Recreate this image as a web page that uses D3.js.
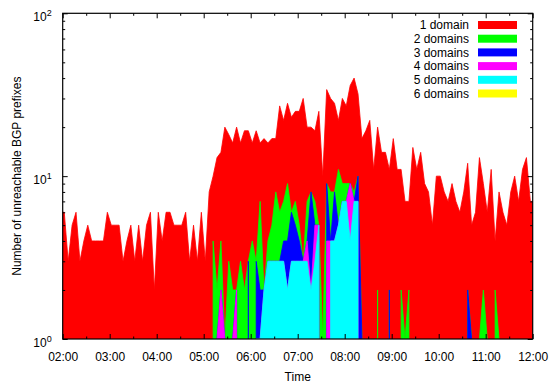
<!DOCTYPE html>
<html><head><meta charset="utf-8">
<script src="https://cdn.jsdelivr.net/npm/d3@7"></script>
<style>
body{margin:0;background:#fff}
svg text{font-family:"Liberation Sans",Arial,Helvetica,sans-serif;font-size:12px;fill:#000}
</style>
</head><body>
<svg id="chart" width="556" height="384"></svg>
<script>
// ---- data (5-minute samples, first sample 01:57, last 12:02) ----
const startTime = [1, 57];      // hh, mm
const stepMinutes = 5;

const oneDomain = [
 6,
 6,3,5,6,3,4,5,4,4,4,
 4,6,5,5,5,3,4,5,3,5,
 3,5,6,2,6,4,6,6,5,5,
 5,6,3,5,3,6,3,8,6,11,
 10,19,15,14,18,13,17,16,12,16,
 9,15,12,12,9,21,15,19,17,18,
 20,27,13,12,12,20,9,25,22,20,
 11,21,18,27,32,22,16,19,22,11,
 18,14,14,9,17,11,9,6,5,15,
 11,14,9,8,5,10,10,8,7,9,
 7,6,8,10,4,6,12,7,5,11,
 2,7,6,5,8,10,7,11,13,7,
 7
];
const twoDomains = [
 0,
 0,0,0,0,0,0,0,0,0,0,
 0,0,0,0,0,0,0,0,0,0,
 0,0,0,0,0,0,0,0,0,0,
 0,0,0,0,0,0,0,0,4,1,
 2,0,3,1,0,3,2,0,4,0,
 5,0,1,2,5,3,3,5,0,2,
 1,0,3,0,2,0,1,0,4,0,
 6,2,2,0,1,0,0,0,0,0,
 2,0,0,0,0,0,2,1,2,0,
 0,0,0,0,0,0,0,0,0,0,
 0,0,0,0,0,0,1,2,1,0,
 2,1,0,0,0,0,0,0,0,0,
 0
];
const threeDomains = [
 0,
 0,0,0,0,0,0,0,0,0,0,
 0,0,0,0,0,0,0,0,0,0,
 0,0,0,0,0,0,0,0,0,0,
 0,0,0,0,0,0,0,0,0,0,
 0,0,0,0,0,0,0,3,0,2,
 1,0,0,0,0,0,1,2,3,2,
 1,0,0,6,0,0,0,5,0,4,
 0,0,0,0,0,3,1,0,0,0,
 0,0,0,2,0,0,0,0,0,0,
 0,0,0,0,0,0,0,0,0,0,
 0,0,0,2,1,0,0,0,0,0,
 0,0,0,0,0,0,0,0,0,0,
 0
];
const fourDomains = [
 0,
 0,0,0,0,0,0,0,0,0,0,
 0,0,0,0,0,0,0,0,0,0,
 0,0,0,0,0,0,0,0,0,0,
 0,0,0,0,0,0,0,0,0,1,
 2,1,0,1,2,0,0,0,0,0,
 0,0,0,0,0,0,0,0,0,0,
 0,0,1,0,2,0,0,4,0,0,
 0,0,0,5,0,0,0,0,0,0,
 0,0,0,0,0,0,0,0,0,0,
 0,0,0,0,0,0,0,0,0,0,
 0,0,0,0,0,0,0,0,0,0,
 0,0,0,0,0,0,0,0,0,0,
 0
];
const fiveDomains = [
 0,
 0,0,0,0,0,0,0,0,0,0,
 0,0,0,0,0,0,0,0,0,0,
 0,0,0,0,0,0,0,0,0,0,
 0,0,0,0,0,0,0,0,0,0,
 0,0,0,0,0,0,0,0,0,1,
 1,2,3,3,3,3,3,2,3,3,
 3,3,3,2,3,5,0,0,4,4,
 5,7,7,4,7,7,0,0,0,0,
 0,0,0,0,0,0,0,0,0,0,
 0,0,0,0,0,0,0,0,0,0,
 0,0,0,0,0,0,0,0,0,0,
 0,0,0,0,0,0,0,0,0,0,
 0
];
const sixDomains = new Array(oneDomain.length).fill(0);

const seriesNames  = ["1 domain","2 domains","3 domains","4 domains","5 domains","6 domains"];
const seriesColors = ["#ff0000","#00ff00","#0000ff","#ff00ff","#00ffff","#ffff00"];
const xTickLabels  = ["02:00","03:00","04:00","05:00","06:00","07:00","08:00","09:00","10:00","11:00","12:00"];
const yTickValues  = [1,10,100];
const yTickExponents = ["0","1","2"];
const xTitle = "Time";
const yTitle = "Number of unreachable BGP prefixes";

// ---- layout ----
const L = 62.7, R = 532.7, T = 13.3, B = 339;
const svg = d3.select("#chart");

const day = (h, m) => new Date(Date.UTC(2000, 0, 1, h, m));
const x = d3.scaleUtc().domain([day(2, 0), day(12, 0)]).range([L, R]);
const y = d3.scaleLog().domain([1, 100]).range([B, T]);

const keys = ["six","five","four","three","two","one"];
const src = {one: oneDomain, two: twoDomains, three: threeDomains, four: fourDomains, five: fiveDomains, six: sixDomains};
const rows = oneDomain.map((_, i) => {
  const r = {t: new Date(day(startTime[0], startTime[1]).getTime() + i * stepMinutes * 60000)};
  keys.forEach(k => r[k] = src[k][i]);
  return r;
});
const stacked = d3.stack().keys(keys)(rows);
const byKey = {};
stacked.forEach(s => byKey[s.key] = s);

svg.append("defs").append("clipPath").attr("id", "plotclip")
  .append("rect").attr("x", L).attr("y", T).attr("width", R - L).attr("height", B - T);

const area = d3.area()
  .defined(d => d[1] > 0)
  .x(d => x(d.data.t))
  .y0(y(1))
  .y1(d => y(Math.max(1, d[1])));

const plot = svg.append("g").attr("clip-path", "url(#plotclip)");
["one","two","three","four","five","six"].forEach((k, i) => {
  plot.append("path")
    .datum(byKey[k])
    .attr("d", area)
    .attr("fill", seriesColors[i])
    .attr("stroke", seriesColors[i])
    .attr("stroke-width", 0.8);
});

// ---- axes ----
const hours = xTickLabels.map((_, i) => day(2 + i, 0));
const halfHours = d3.range(10).map(i => day(2 + i, 30));
const minorY = [2,3,4,5,6,7,8,9,20,30,40,50,60,70,80,90];

function strip(g){ g.select(".domain").remove(); g.selectAll("line").attr("stroke","#000"); }

svg.append("g").attr("transform", `translate(0,${B})`)
  .call(d3.axisBottom(x).tickValues(hours).tickFormat((d, i) => xTickLabels[i]).tickSize(-5).tickPadding(13))
  .call(strip)
  .call(g => g.selectAll("text").attr("font-size", 12).attr("font-family", null));
svg.append("g").attr("transform", `translate(0,${B})`)
  .call(d3.axisBottom(x).tickValues(halfHours).tickFormat("").tickSize(-2.5)).call(strip);
svg.append("g").attr("transform", `translate(0,${T})`)
  .call(d3.axisTop(x).tickValues(hours).tickFormat("").tickSize(-5)).call(strip);
svg.append("g").attr("transform", `translate(0,${T})`)
  .call(d3.axisTop(x).tickValues(halfHours).tickFormat("").tickSize(-2.5)).call(strip);

const yAxisG = svg.append("g").attr("transform", `translate(${L},0)`)
  .call(d3.axisLeft(y).tickValues(yTickValues).tickFormat("").tickSize(-5).tickPadding(11))
  .call(strip);
yAxisG.selectAll(".tick text").each(function(d, i){
  const t = d3.select(this).attr("font-size", 12).attr("font-family", null).attr("dy", "0.6em");
  t.text(null);
  t.append("tspan").text("10");
  t.append("tspan").attr("dy", -5).attr("font-size", 9).text(yTickExponents[i]);
});
svg.append("g").attr("transform", `translate(${L},0)`)
  .call(d3.axisLeft(y).tickValues(minorY).tickFormat("").tickSize(-2.5)).call(strip);
svg.append("g").attr("transform", `translate(${R},0)`)
  .call(d3.axisRight(y).tickValues(yTickValues).tickFormat("").tickSize(-5)).call(strip);
svg.append("g").attr("transform", `translate(${R},0)`)
  .call(d3.axisRight(y).tickValues(minorY).tickFormat("").tickSize(-2.5)).call(strip);

svg.append("rect").attr("x", L).attr("y", T).attr("width", R - L).attr("height", B - T)
  .attr("fill", "none").attr("stroke", "#000").attr("stroke-width", 1.2);

// titles
svg.append("text").attr("x", (L + R) / 2).attr("y", 381).attr("text-anchor", "middle").text(xTitle);
svg.append("text").attr("transform", `translate(21,${(T + B) / 2}) rotate(-90)`)
  .attr("text-anchor", "middle").text(yTitle);

// legend
const leg = svg.append("g");
seriesNames.forEach((n, i) => {
  const cy = 25 + i * 13.7;
  leg.append("text").attr("x", 469).attr("y", cy + 4.3).attr("text-anchor", "end").text(n);
  leg.append("rect").attr("x", 478).attr("y", cy - 4).attr("width", 39).attr("height", 8).attr("fill", seriesColors[i]);
});
</script>
</body></html>
